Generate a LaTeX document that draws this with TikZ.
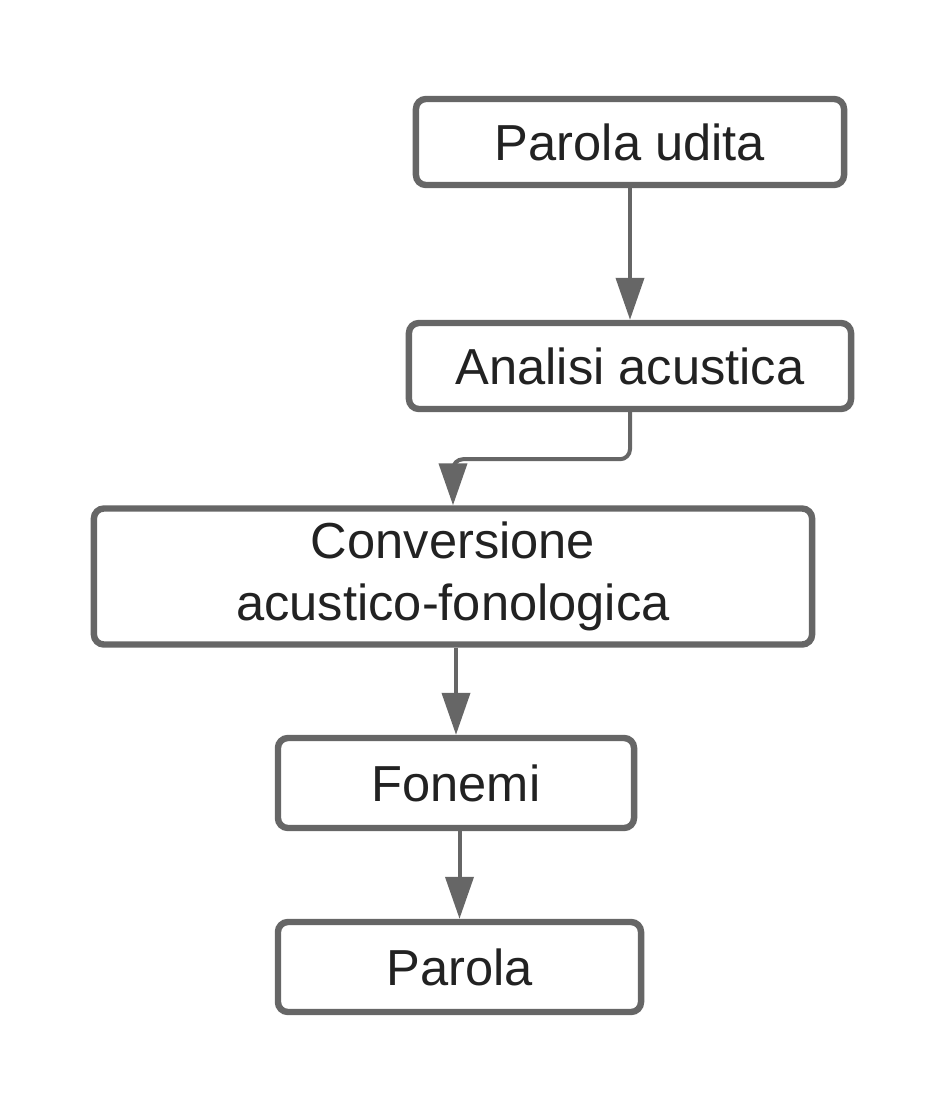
\documentclass[tikz,border=0pt]{standalone}
\usepackage{fontspec}
\setmainfont{Liberation Sans}
\usepackage{xcolor}
\definecolor{flowGray}{RGB}{102,102,102}
\definecolor{flowText}{RGB}{34,34,34}
\usepackage{tikz}
\usetikzlibrary{arrows.meta}

\begin{document}
\begin{tikzpicture}[x=0.025cm, y=-0.025cm,
  box/.style={draw=flowGray, line width=0.16cm, rounded corners=0.25cm, fill=white, text=flowText, align=center, font=\fontsize{36}{44}\selectfont},
  flow/.style={draw=flowGray, line width=0.1cm, -{Triangle[width=0.7cm, length=1.05cm]}}]
\useasboundingbox (0,0) rectangle (944,1111);
\node[box, minimum width=10.7cm, minimum height=2.15cm] (udita) at (630,142) {Parola udita};
\node[box, minimum width=11.05cm, minimum height=2.15cm] (analisi) at (630,366) {Analisi acustica};
\node[box, minimum width=17.95cm, minimum height=3.4cm] (conv) at (453,576.5) {Conversione\\acustico-fonologica};
\node[box, minimum width=8.9cm, minimum height=2.25cm] (fonemi) at (456,783) {Fonemi};
\node[box, minimum width=9.075cm, minimum height=2.25cm] (parola) at (459.5,967) {Parola};
\draw[flow] (udita) -- (analisi);
\draw[flow, rounded corners=0.25cm] (analisi.south) -- ++(0,47) -| (conv.north);
\draw[flow] (conv.south -| fonemi.north) -- (fonemi.north);
\draw[flow] (fonemi.south -| parola.north) -- (parola.north);
\end{tikzpicture}
\end{document}
